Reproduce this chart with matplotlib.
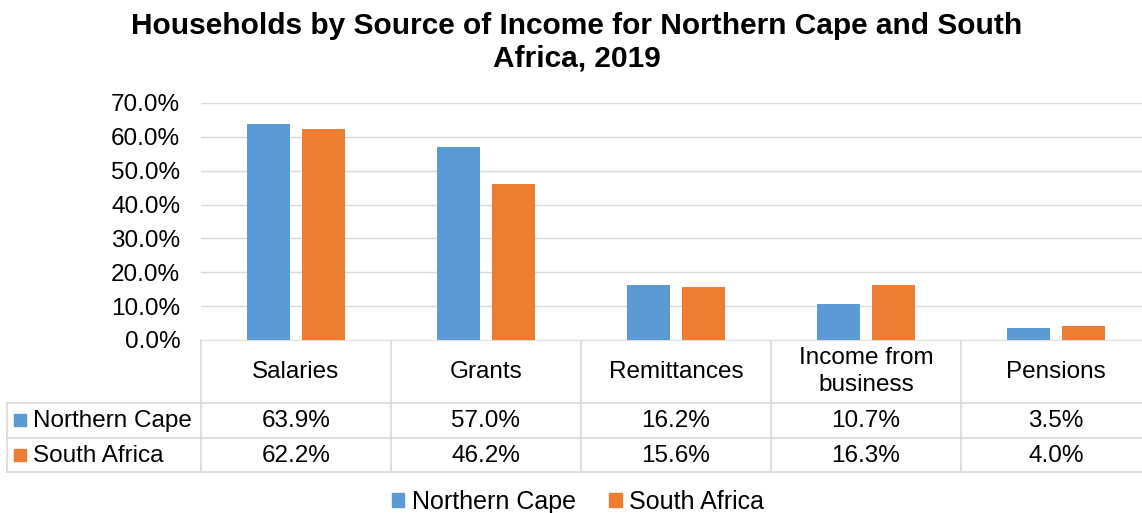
import matplotlib.pyplot as plt
from matplotlib.patches import Patch
from matplotlib.ticker import PercentFormatter

plt.rcParams['font.family'] = ['Liberation Sans', 'DejaVu Sans']

categories = ['Salaries', 'Grants', 'Remittances', 'Income from\nbusiness', 'Pensions']
series = ['Northern Cape', 'South Africa']
northern_cape = [63.9, 57.0, 16.2, 10.7, 3.5]
south_africa = [62.2, 46.2, 15.6, 16.3, 4.0]
colors = ['#5B9BD5', '#ED7D31']

W, H = 1142, 513
fig = plt.figure(figsize=(W / 100, H / 100), dpi=100)

# plot area in pixels (left, right, top, bottom)
pl, pr, pt, pb = 201, 1151, 103, 340
ax = fig.add_axes([pl / W, 1 - pb / H, (pr - pl) / W, (pb - pt) / H])

n = len(categories)
x = list(range(n))
bw = 0.223
off = 0.145
ax.bar([i - off for i in x], northern_cape, bw, color=colors[0], zorder=3)
ax.bar([i + off for i in x], south_africa, bw, color=colors[1], zorder=3)

ax.set_xlim(-0.5, n - 0.5)
ax.set_ylim(0, 70)
ax.set_yticks(range(0, 71, 10))
ax.yaxis.set_major_formatter(PercentFormatter(decimals=1))
ax.tick_params(axis='y', length=0, pad=15, labelsize=17.5, colors='#000000')
ax.set_xticks([])
ax.grid(axis='y', color='#D9D9D9', lw=1.0, zorder=0)
for s in ax.spines.values():
    s.set_visible(False)

# data table under the axis, drawn in pixel coordinates
tab = fig.add_axes([0, 0, 1, 1], zorder=-1)
tab.set_xlim(0, W)
tab.set_ylim(H, 0)
tab.axis('off')

lc = '#D9D9D9'
cw = (pr - pl) / n
row_y = [pb, 403, 437.5, 472]
tab.plot([pl, pr], [pb, pb], color=lc, lw=1.2)
for yy in row_y[1:]:
    tab.plot([7, pr], [yy, yy], color=lc, lw=1.2)
tab.plot([7, 7], [row_y[1], row_y[3]], color=lc, lw=1.2)
for i in range(n + 1):
    xx = pl + i * cw
    tab.plot([xx, xx], [pb, row_y[3]], color=lc, lw=1.2)

fs = 17.5
for i, cat in enumerate(categories):
    cx = pl + (i + 0.5) * cw
    tab.text(cx, (row_y[0] + row_y[1]) / 2, cat, ha='center', va='center',
             fontsize=fs, linespacing=1.3)
    for r, vals in enumerate([northern_cape, south_africa]):
        tab.text(cx, (row_y[r + 1] + row_y[r + 2]) / 2 + 1, f'{vals[i]:.1f}%',
                 ha='center', va='center', fontsize=fs)

for r, name in enumerate(series):
    cy = (row_y[r + 1] + row_y[r + 2]) / 2
    tab.add_patch(plt.Rectangle((14, cy - 6), 12, 12, color=colors[r]))
    tab.text(33, cy + 1, name, ha='left', va='center', fontsize=fs)

fig.text(577 / W, 1 - 42 / H, 'Households by Source of Income for Northern Cape and South\nAfrica, 2019',
         ha='center', va='center', fontsize=21.5, fontweight='bold', linespacing=1.2)

handles = [Patch(color=c) for c in colors]
fig.legend(handles, series, loc='center', bbox_to_anchor=(578 / W, 1 - 502 / H),
           ncol=2, frameon=False, fontsize=18, handlelength=0.5, handleheight=0.5,
           handletextpad=0.3, columnspacing=1.35)

fig.savefig('out.png', dpi=100)
